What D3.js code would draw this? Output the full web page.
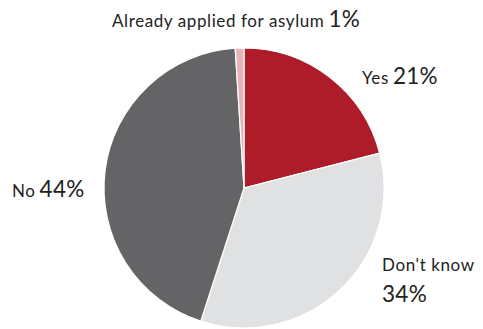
<!DOCTYPE html>
<html>
<head>
<meta charset="utf-8">
<script src="https://cdn.jsdelivr.net/npm/d3@7"></script>
<style>
  body { margin: 0; background: #fff; }
  svg { display: block; font-family: Lato, "Open Sans", sans-serif; }
</style>
</head>
<body>
<svg id="chart"></svg>
<script>
// answers, clockwise from 12 o'clock
const categories = ["Yes", "Don't know", "No", "Already applied for asylum"];
const shares = [21, 34, 44, 1];
const colors = ["#ae1c2a", "#e0e1e3", "#646466", "#e8b3b8"];

const width = 483, height = 329;
const cx = 244, cy = 188, radius = 140;

const svg = d3.select("#chart").attr("width", width).attr("height", height);

const data = categories.map((c, i) => ({ name: c, value: shares[i], color: colors[i] }));

const pie = d3.pie().sort(null).value((d) => d.value);
const arc = d3.arc().innerRadius(0).outerRadius(radius);

const g = svg.append("g").attr("transform", `translate(${cx},${cy})`);

g.selectAll("path")
  .data(pie(data))
  .join("path")
  .attr("d", arc)
  .attr("fill", (d) => d.data.color)
  .attr("stroke", "#fff")
  .attr("stroke-width", 1.2);

// label placement: offset from the pie centre, and whether the number goes on a new line
const labelLayout = {
  "Yes": { dx: 118, dy: -104, wrap: false },
  "Don't know": { dx: 138, dy: 83, wrap: true },
  "No": { dx: -232, dy: 9, wrap: false },
  "Already applied for asylum": { dx: -132, dy: -161, wrap: false },
};

const labels = g.selectAll("text.lbl")
  .data(pie(data))
  .join("text")
  .attr("class", "lbl")
  .attr("x", (d) => labelLayout[d.data.name].dx)
  .attr("y", (d) => labelLayout[d.data.name].dy)
  .attr("fill", "#222");

labels.append("tspan")
  .attr("font-size", 17)
  .attr("letter-spacing", 0.6)
  .text((d) => d.data.name);

labels.append("tspan")
  .attr("font-size", 22.5)
  .attr("letter-spacing", 0.3)
  .each(function (d) {
    const l = labelLayout[d.data.name];
    const t = d3.select(this);
    if (l.wrap) t.attr("x", l.dx).attr("dy", 31);
    else t.attr("dx", 4);
  })
  .text((d) => d.data.value + "%");
</script>
</body>
</html>
